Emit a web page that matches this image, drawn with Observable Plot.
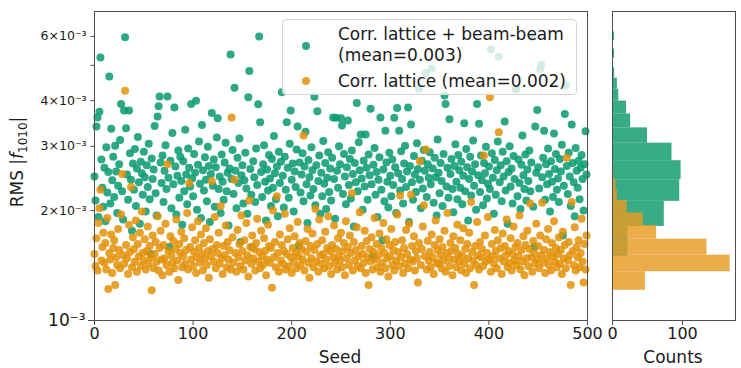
<!DOCTYPE html>
<html><head><meta charset="utf-8">
<script src="https://cdn.jsdelivr.net/npm/d3@7"></script>
<script src="https://cdn.jsdelivr.net/npm/@observablehq/plot@0.6"></script>
<style>
body{margin:0;background:#fff;font-family:"DejaVu Sans",sans-serif;}
#wrap{position:relative;width:741px;height:368px;overflow:hidden;background:#fff;}
#main,#hist{position:absolute;top:0;}
#main{left:0}
#hist{left:600px}
.lab{position:absolute;font-size:17px;color:#1a1a1a;white-space:nowrap;line-height:20px;}
#ylab{left:17px;top:162px;transform:translate(-50%,-50%) rotate(-90deg);}
#ylab sub{font-size:12px;vertical-align:-4px;line-height:0}
#legend{position:absolute;left:282px;top:19px;width:295px;height:76px;background:rgba(255,255,255,0.8);border:1px solid #d5d5d5;border-radius:4px;box-sizing:border-box;}
#legend .t{position:absolute;left:55px;font-size:17px;line-height:20px;color:#1a1a1a;white-space:nowrap;}
#legend .m{position:absolute;width:8px;height:8px;border-radius:50%;}
</style></head>
<body>
<div id="wrap">
<div id="main"></div>
<div id="hist"></div>
<div class="lab" id="ylab">RMS |<i>f</i><sub>1010</sub>|</div>
<div class="lab" style="left:340px;top:357px;transform:translate(-50%,-50%)">Seed</div>
<div class="lab" style="left:673px;top:357px;transform:translate(-50%,-50%)">Counts</div>
<div id="legend"></div>
</div>
<script>
// values in units of 10^-3, index = seed
const beamBeamRms = [
2.48,2.13,3.40,3.60,1.92,3.73,5.25,2.76,2.31,2.05,
2.62,1.87,2.98,2.24,2.55,4.66,2.09,3.35,2.42,2.81,
2.18,3.01,2.56,1.97,2.34,2.68,3.12,3.92,2.26,1.89,
3.76,5.97,3.36,2.51,2.14,3.76,2.87,2.43,1.76,2.69,
2.28,2.95,2.06,2.61,3.18,2.39,1.84,2.72,2.53,2.21,
2.90,2.47,1.99,2.66,2.32,3.05,2.15,1.52,2.78,2.44,
2.59,3.41,2.23,1.94,3.62,3.86,4.11,2.71,2.38,2.83,
2.11,2.57,3.02,2.29,4.11,2.46,1.59,2.74,2.03,3.26,
2.36,3.83,2.64,1.95,2.49,2.92,2.17,2.81,2.41,1.83,
2.73,2.26,3.33,2.51,2.08,2.96,2.62,2.33,3.92,2.45,
2.19,2.86,2.54,4.00,2.01,2.67,3.09,2.37,1.91,3.43,
2.58,2.27,2.80,2.43,2.12,2.99,2.65,1.86,2.52,3.70,
2.34,2.76,2.05,2.63,3.17,3.58,2.29,2.48,1.97,2.85,
2.40,2.14,2.71,3.07,2.26,2.54,1.82,2.61,5.35,2.44,
2.93,2.22,4.34,2.57,2.03,2.79,2.38,3.15,1.64,2.50,
2.66,2.09,2.42,2.88,2.30,1.96,4.09,4.82,2.60,2.21,
1.59,2.73,2.47,2.11,2.96,2.35,3.91,6.00,3.49,2.55,
2.18,2.68,3.02,2.40,1.88,2.59,2.27,2.84,2.45,2.06,
2.77,2.31,3.20,2.53,2.15,2.64,1.93,2.90,2.38,2.72,
4.22,2.49,2.04,2.81,2.28,3.49,2.62,2.17,3.05,3.76,
2.43,2.69,1.99,2.56,2.32,2.94,3.40,1.60,2.71,2.24,
2.51,2.87,2.12,2.64,3.29,2.36,1.85,2.75,2.47,2.20,
2.98,2.58,2.29,4.10,2.07,2.66,3.74,2.41,2.83,1.96,
2.54,2.19,3.10,2.37,2.70,2.02,2.46,2.89,2.25,2.61,
2.13,2.79,3.60,2.44,1.90,3.59,2.57,2.31,3.00,2.68,
3.58,3.42,2.22,2.86,2.48,2.08,2.63,3.53,2.35,2.77,
2.16,2.92,2.52,1.81,2.70,2.39,3.94,2.26,3.08,2.58,
3.23,2.45,2.01,2.74,2.33,3.23,2.62,2.14,2.85,2.50,
3.80,2.36,1.50,2.67,2.97,2.21,2.55,1.92,2.43,2.80,
3.60,2.28,1.66,2.59,2.12,3.31,2.71,2.40,2.04,2.88,
2.49,2.19,2.76,2.35,3.59,2.63,1.97,3.82,2.53,3.31,
2.27,2.91,2.44,2.09,2.69,3.01,2.32,2.56,3.83,1.86,
2.65,3.44,2.39,2.14,2.82,2.51,2.25,3.06,2.60,4.31,
2.43,2.03,2.74,2.30,2.93,2.57,4.76,2.18,2.68,2.46,
2.89,2.36,4.90,2.61,2.10,2.79,2.47,1.94,3.13,2.54,
2.23,2.70,2.41,2.06,2.86,4.13,3.92,2.33,2.62,2.17,
3.56,2.52,2.77,2.29,1.98,2.65,3.04,2.40,2.15,2.84,
2.58,2.31,2.72,2.08,2.49,3.47,2.26,2.95,2.63,1.88,
2.44,2.81,2.20,2.56,3.11,2.34,2.68,2.01,3.92,2.50,
3.46,2.25,2.83,2.42,2.07,2.70,2.53,2.99,2.16,2.37,
2.64,2.29,5.52,2.87,2.46,1.96,2.75,2.21,2.58,3.09,
5.28,2.39,2.66,2.12,2.90,2.48,3.51,2.27,2.73,1.84,
2.55,3.00,2.33,2.61,2.09,2.82,2.44,4.30,4.31,2.19,
2.76,2.38,2.02,2.67,3.21,2.50,2.29,2.85,2.13,2.59,
2.41,2.92,2.26,2.71,5.97,2.05,1.59,3.40,2.54,3.77,
2.63,2.30,4.88,5.02,2.47,2.79,3.31,2.14,2.68,2.36,
2.96,2.52,1.99,2.73,2.40,2.18,3.25,2.60,2.86,2.28,
2.45,2.11,2.77,2.56,3.03,1.71,2.34,3.68,4.40,2.65,
2.22,2.88,2.48,2.06,3.44,2.70,2.39,1.93,2.97,2.57,
2.31,2.74,2.15,2.62,2.84,2.44,2.00,2.68,3.30,2.51];

const latticeRms = [
1.52,1.41,1.68,1.37,1.85,2.03,2.28,1.46,1.59,1.74,
1.44,1.63,1.38,1.91,1.22,1.53,1.47,1.72,1.35,1.58,
1.66,1.25,1.49,1.42,1.78,1.56,1.39,1.95,2.52,1.51,
1.43,4.26,1.61,1.48,1.34,1.83,1.54,2.32,1.40,1.69,
1.57,1.45,1.88,1.36,1.62,1.50,1.74,1.41,1.99,1.53,
1.46,1.67,1.38,1.55,1.81,1.43,1.60,1.49,1.21,1.71,
1.39,1.52,1.64,1.45,1.93,1.37,1.58,1.76,1.47,1.33,
1.61,1.48,1.84,1.42,2.68,1.55,1.36,1.70,1.51,1.44,
1.65,1.39,1.57,1.89,1.46,1.29,1.62,1.53,1.75,1.40,
1.50,1.68,1.43,1.56,1.97,1.38,2.38,1.59,1.47,1.80,
1.41,1.54,1.66,1.35,1.49,1.87,1.58,1.44,1.72,1.52,
1.37,1.63,1.48,1.79,1.42,1.55,1.31,1.67,1.50,2.41,
1.57,1.45,1.92,1.39,1.61,1.53,1.74,1.43,2.06,1.48,
1.34,1.60,1.51,1.82,1.40,1.64,1.47,1.56,1.38,3.60,
1.69,1.44,2.43,1.53,1.36,1.77,1.49,1.62,1.41,1.94,
1.55,1.38,1.66,1.46,1.85,1.51,1.32,2.13,1.59,1.43,
1.71,1.48,1.57,1.37,1.63,1.90,1.45,1.54,1.39,1.76,
1.50,1.42,1.68,1.55,1.33,1.47,1.83,1.60,1.44,1.58,
1.23,2.00,1.49,1.64,1.40,2.19,1.53,1.36,1.72,1.46,
1.61,1.43,1.55,1.96,1.38,1.52,1.67,1.41,1.79,1.49,
1.35,1.58,1.45,1.70,1.53,1.39,1.86,1.50,1.63,1.42,
1.57,1.47,3.21,1.37,1.65,1.54,1.78,1.44,1.31,1.60,
1.48,1.73,1.40,1.56,2.02,1.45,1.62,1.36,1.89,1.51,
1.43,1.66,1.52,1.39,1.75,1.47,1.58,1.93,1.41,1.55,
1.34,1.61,1.49,1.82,1.44,1.57,1.38,1.68,1.50,1.46,
1.74,1.40,1.55,1.63,1.33,1.87,1.48,1.59,1.42,1.71,
1.53,2.23,1.37,1.64,1.46,1.56,1.80,1.41,1.50,1.98,
1.39,1.60,1.52,1.44,1.76,1.35,1.65,1.49,1.25,1.57,
1.45,1.69,1.38,1.54,1.91,1.47,1.62,1.40,1.51,1.73,
1.36,1.58,1.44,1.85,1.53,1.39,1.67,1.48,1.32,1.61,
1.50,1.78,1.42,1.56,1.37,1.64,1.46,1.95,1.54,1.41,
2.20,1.49,1.66,1.35,1.58,1.43,1.77,1.52,1.39,1.84,
1.47,2.21,1.60,1.45,1.70,1.37,1.55,1.48,1.27,1.63,
2.73,1.42,1.57,1.81,2.07,1.50,2.94,1.38,1.65,1.46,
1.54,1.40,1.72,1.49,1.34,1.61,1.88,1.44,1.56,1.43,
1.67,1.51,1.39,1.59,1.46,1.76,1.36,1.53,1.97,1.48,
1.41,1.63,1.55,1.33,1.70,1.47,1.58,1.40,1.83,1.52,
1.45,1.66,1.37,1.50,1.79,1.43,1.57,1.35,1.62,1.48,
1.74,1.39,2.11,1.54,1.46,1.25,1.60,1.42,1.86,1.51,
1.38,1.64,1.49,1.57,1.41,2.83,1.71,1.45,1.53,1.92,
1.47,4.09,1.36,1.62,1.50,1.43,1.77,1.55,1.39,1.66,
3.28,1.48,1.58,1.34,1.73,1.45,1.60,1.51,1.89,1.40,
1.55,1.44,1.68,1.37,1.52,1.81,1.46,1.59,1.42,1.63,
1.50,1.94,1.38,1.56,1.45,1.70,1.33,1.61,1.48,1.76,
1.41,1.57,2.09,1.49,1.36,1.65,1.53,1.43,1.84,1.47,
1.60,1.39,1.71,1.51,2.10,1.44,1.56,1.35,1.67,1.48,
1.78,1.42,1.54,1.37,1.63,1.50,1.87,1.45,1.58,1.40,
1.52,1.69,1.43,1.56,1.34,1.75,1.48,1.61,1.39,2.79,
1.46,1.64,1.51,1.25,2.11,1.55,1.42,1.80,1.37,1.59,
1.49,1.66,1.40,1.53,1.90,1.45,1.27,1.62,1.38,1.71];

// histogram bins (units of 10^-3) and counts
const beamBeamBinEdges = [1.50,1.81,2.12,2.43,2.74,3.06,3.37,3.68,3.99,4.30,4.61,4.92,5.23,5.54,5.85,6.17];
const beamBeamCounts   = [22,74,96,98,85,50,26,20,9,7,3,1,3,0,3];
const latticeBinEdges  = [1.21,1.36,1.51,1.67,1.82,1.97,2.13,2.28,2.43,2.59,2.74,2.89,3.04,3.20,3.35,3.50,3.66,3.81,3.96,4.12,4.27];
const latticeCounts    = [47,168,135,63,44,21,7,5,2,1,1,1,1,1,0,1,0,0,1,1];

const seriesNames = ["Corr. lattice + beam-beam", "Corr. lattice"];
const seriesMeans = ["(mean=0.003)", "(mean=0.002)"];
const xTicks = [0,100,200,300,400,500];
const yMinorLabelled = [2,3,4,6];
const yMinorUnlabelled = [5];
const yMajor = [1];
const countTicks = [0,100];

const GREEN = "#079a6e";
const ORANGE = "#e39108";
const GREEN_H = "#0c9a6c";
const ORANGE_H = "#e69a22";
const AX = "#4d4d4d";
const FONT = "DejaVu Sans";
const yDomain = [1, 7.02];

const bb = beamBeamRms.map((v,i)=>({seed:i, v}));
const lat = latticeRms.map((v,i)=>({seed:i, v}));
const bbHist = beamBeamCounts.map((c,i)=>({y1:beamBeamBinEdges[i], y2:beamBeamBinEdges[i+1], c}));
const latHist = latticeCounts.map((c,i)=>({y1:latticeBinEdges[i], y2:latticeBinEdges[i+1], c}));

const main = Plot.plot({
  width:600, height:368, marginLeft:94, marginRight:13, marginTop:11, marginBottom:48,
  style:{fontFamily:FONT, color:"#1a1a1a", background:"transparent", overflow:"visible"},
  x:{domain:[0,500]},
  y:{type:"log", domain:yDomain},
  marks:[
    Plot.dot(bb,{x:"seed", y:"v", r:4, fill:GREEN, fillOpacity:0.85}),
    Plot.dot(lat,{x:"seed", y:"v", r:4, fill:ORANGE, fillOpacity:0.85}),
    Plot.frame({stroke:AX, strokeWidth:1}),
    Plot.axisX(xTicks,{tickSize:5, tickPadding:2, fontSize:16, label:null, stroke:AX}),
    Plot.axisY(yMinorLabelled,{tickSize:3.5, tickPadding:4.5, fontSize:12.5, label:null, stroke:AX, tickFormat:d=>`${d}×10⁻³`}),
    Plot.axisY(yMinorUnlabelled,{tickSize:3.5, label:null, stroke:AX, tickFormat:()=>""}),
    Plot.axisY(yMajor,{tickSize:6, tickPadding:3, fontSize:17, label:null, stroke:AX, tickFormat:()=>"10⁻³"})
  ]
});
document.getElementById("main").appendChild(main);

const hist = Plot.plot({
  width:141, height:368, marginLeft:12, marginRight:6, marginTop:11, marginBottom:48,
  style:{fontFamily:FONT, color:"#1a1a1a", background:"transparent", overflow:"visible"},
  x:{domain:[0,175.7]},
  y:{type:"log", domain:yDomain, axis:null},
  marks:[
    Plot.rectX(bbHist,{y1:"y1", y2:"y2", x1:0, x2:"c", fill:GREEN_H, fillOpacity:0.82}),
    Plot.rectX(latHist,{y1:"y1", y2:"y2", x1:0, x2:"c", fill:ORANGE_H, fillOpacity:0.82}),
    Plot.frame({stroke:AX, strokeWidth:1}),
    Plot.axisX(countTicks,{tickSize:5, tickPadding:2, fontSize:16, label:null, stroke:AX})
  ]
});
document.getElementById("hist").appendChild(hist);

// legend
const leg = document.getElementById("legend");
const colors = [GREEN, ORANGE];
const rows = [
  {text:seriesNames[0], top:4},
  {text:seriesMeans[0], top:25},
  {text:seriesNames[1]+" "+seriesMeans[1], top:51}
];
rows.forEach(r=>{const d=document.createElement("div");d.className="t";d.style.top=r.top+"px";d.textContent=r.text;leg.appendChild(d);});
[[26,0],[60.7,1]].forEach(([cy,k])=>{const m=document.createElement("div");m.className="m";m.style.left=(23-4)+"px";m.style.top=(cy-4)+"px";m.style.background=colors[k];m.style.opacity=0.85;leg.appendChild(m);});
</script>
</body></html>
